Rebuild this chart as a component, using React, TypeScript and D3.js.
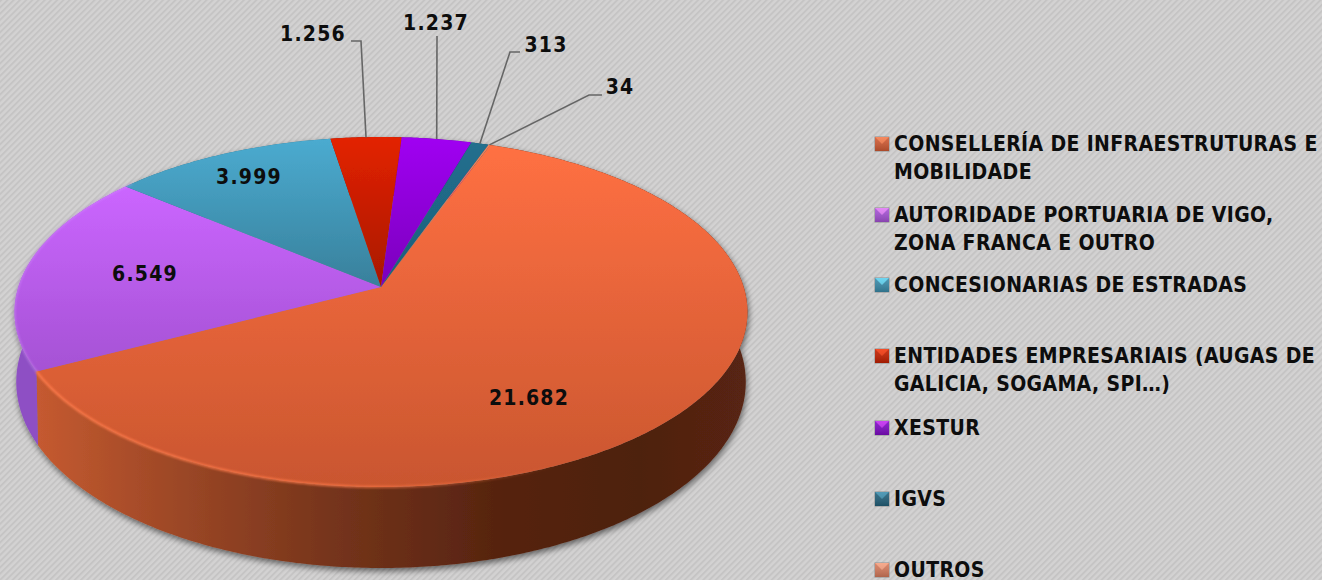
import React from "react";
import * as d3 from "d3";

const categories = [
  ["CONSELLERÍA DE INFRAESTRUTURAS E", "MOBILIDADE"],
  ["AUTORIDADE PORTUARIA DE VIGO,", "ZONA FRANCA E OUTRO"],
  ["CONCESIONARIAS DE ESTRADAS"],
  ["ENTIDADES EMPRESARIAIS (AUGAS DE", "GALICIA, SOGAMA, SPI…)"],
  ["XESTUR"],
  ["IGVS"],
  ["OUTROS"],
];
const values = [21682, 6549, 3999, 1256, 1237, 313, 34];
const valueLabels = ["21.682", "6.549", "3.999", "1.256", "1.237", "313", "34"];
const topColors = ["#ff7043", "#cb66ff", "#4babd0", "#e32200", "#a000f2", "#216f8e", "#f08560"];
const bottomColors = ["#c9562f", "#a552d4", "#38809b", "#a81800", "#7a00bb", "#1d5f7a", "#d06a48"];
const markerTop = ["#f47b4c", "#e07cf5", "#5fd0ee", "#f23a10", "#c22cf0", "#3f8fae", "#f5a080"];
const markerBody = ["#cf5a33", "#a552d4", "#3a8aa8", "#c22000", "#7f0cc4", "#23607a", "#d57a5c"];
const wallColors = ["", "#8e4fc4", "#2f6f88", "#8a1500", "#5a0090", "#154a60", "#a04a2a"];

// layout of labels: text centre, optional leader elbow
const labelLayout: { x: number; y: number; elbow?: [number, number]; end?: [number, number] }[] = [
  { x: 529, y: 405 },
  { x: 145, y: 281 },
  { x: 249, y: 184 },
  { x: 313, y: 41, elbow: [361, 41], end: [351, 41] },
  { x: 436, y: 30, elbow: [437, 36], end: [437, 36] },
  { x: 546, y: 52, elbow: [510, 52], end: [520, 52] },
  { x: 620, y: 94, elbow: [589, 95], end: [602, 95] },
];
const legendBaselines = [[151, 179], [222, 250], [292], [363, 391], [435], [506], [577]];

const START = (20 * Math.PI) / 180;
const K = 1 / 7;
const topFace = { x0: 381, y0: 287, a: 362.7, b: 171.4 };
const bottomFace = { x0: 381, y0: 355.4, a: 361, b: 182.2 };
type Face = typeof topFace;

const project = (f: Face, ang: number): [number, number] => {
  const u = Math.sin(ang);
  const v = -Math.cos(ang);
  const w = 1 - K * v;
  return [f.x0 + (f.a * u) / w, f.y0 + (f.b * v) / w];
};
const arcPts = (f: Face, a0: number, a1: number): [number, number][] => {
  const n = Math.max(2, Math.ceil(Math.abs(a1 - a0) / 0.01));
  return d3.range(n + 1).map((i) => project(f, a0 + ((a1 - a0) * i) / n));
};

const pie = d3.pie<number>().sort(null).startAngle(START).endAngle(START + 2 * Math.PI);
const arcs = pie(values);
const line = d3.line();
const FONT = "'DejaVu Sans', sans-serif";

export default function App() {
  return (
    <svg width={1322} height={580} style={{ position: "absolute", left: 0, top: 0, display: "block" }}>
      <defs>
        <pattern id="bg" width={4.4} height={4.4} patternUnits="userSpaceOnUse" patternTransform="rotate(-45)">
          <rect width={4.4} height={4.4} fill="#d3d2d2" />
          <rect width={4.4} height={1.9} fill="#c5c4c4" />
        </pattern>
        {arcs.map((_, i) => (
          <linearGradient key={i} id={`top${i}`} x1={0} y1={0} x2={0} y2={1}>
            <stop offset="0" stopColor={topColors[i]} />
            <stop offset="1" stopColor={bottomColors[i]} />
          </linearGradient>
        ))}
        <linearGradient id="wall0" gradientUnits="userSpaceOnUse" x1={37} x2={745} y1={0} y2={0}>
          <stop offset="0" stopColor="#c55a30" />
          <stop offset="0.2" stopColor="#9c4726" />
          <stop offset="0.42" stopColor="#75341b" />
          <stop offset="0.66" stopColor="#55230f" />
          <stop offset="0.85" stopColor="#4e2010" />
          <stop offset="1" stopColor="#582512" />
        </linearGradient>
        <linearGradient id="hl" gradientUnits="userSpaceOnUse" x1={37} x2={560} y1={0} y2={0}>
          <stop offset="0" stopColor="#ff7a4a" stopOpacity={1} />
          <stop offset="0.6" stopColor="#ff7a4a" stopOpacity={0.8} />
          <stop offset="1" stopColor="#ff7a4a" stopOpacity={0} />
        </linearGradient>
        <filter id="shadow" x="-5%" y="-5%" width="110%" height="115%">
          <feGaussianBlur in="SourceAlpha" stdDeviation={3} />
          <feOffset dx={1} dy={3} />
          <feComponentTransfer>
            <feFuncA type="linear" slope={0.55} />
          </feComponentTransfer>
          <feMerge>
            <feMergeNode />
            <feMergeNode in="SourceGraphic" />
          </feMerge>
        </filter>
        <filter id="soft" x="-5%" y="-5%" width="110%" height="110%">
          <feGaussianBlur stdDeviation={0.8} />
        </filter>
        <linearGradient id="mk" x1={0} y1={0} x2={0} y2={1}>
          <stop offset="0" stopColor="#ffffff" stopOpacity={0.1} />
          <stop offset="1" stopColor="#000000" stopOpacity={0.18} />
        </linearGradient>
      </defs>
      <rect width={1322} height={580} fill="url(#bg)" />

      <g filter="url(#shadow)">
        {arcs.map((d, i) => {
          const t = arcPts(topFace, d.startAngle, d.endAngle);
          const b = arcPts(bottomFace, d.startAngle, d.endAngle).reverse();
          return (
            <path key={i} d={line([...t, ...b]) + "Z"} fill={i === 0 ? "url(#wall0)" : wallColors[i]} />
          );
        })}
        {arcs.map((d, i) => {
          const pts = arcPts(topFace, d.startAngle, d.endAngle);
          return (
            <path key={i} d={line([[topFace.x0, topFace.y0], ...pts]) + "Z"} fill={`url(#top${i})`} />
          );
        })}
      </g>
      <path
        d={line(arcPts(topFace, arcs[0].startAngle + 1.7, arcs[0].endAngle)) as string}
        fill="none"
        stroke="url(#hl)"
        strokeWidth={2.2}
        filter="url(#soft)"
      />
      <path
        d={line(arcPts(topFace, arcs[1].startAngle, arcs[0].endAngle + 1.2)) as string}
        fill="none"
        stroke="#d9a0ff"
        strokeOpacity={0.5}
        strokeWidth={1.5}
        filter="url(#soft)"
      />

      {arcs.map((d, i) => {
        const l = labelLayout[i];
        if (!l.elbow || !l.end) return null;
        const anchor = project(topFace, (d.startAngle + d.endAngle) / 2);
        return (
          <path
            key={i}
            d={line([l.end, l.elbow, anchor]) as string}
            fill="none"
            stroke="#666666"
            strokeWidth={1.6}
          />
        );
      })}
      {valueLabels.map((t, i) => (
        <text
          key={t}
          x={labelLayout[i].x}
          y={labelLayout[i].y}
          textAnchor="middle"
          fontFamily={FONT}
          fontWeight={700}
          fontSize={21}
          fontStretch="condensed"
          letterSpacing={1.2}
          fill="#0d0d0d"
        >
          {t}
        </text>
      ))}

      {categories.map((lines, i) => {
        const y0 = legendBaselines[i][0];
        const mx = 875;
        const my = y0 - 14;
        const s = 14;
        return (
          <g key={i}>
            <rect x={mx - 0.5} y={my - 0.5} width={s + 1} height={s + 1} fill="#8c8c8c" />
            <rect x={mx} y={my} width={s} height={s} fill={markerBody[i]} />
            <path
              d={line([[mx, my], [mx + s, my], [mx + s / 2, my + s / 2]]) + "Z"}
              fill={markerTop[i]}
            />
            <rect x={mx} y={my} width={s} height={s} fill="url(#mk)" />
            {lines.map((t, j) => (
              <text
                key={j}
                x={894}
                y={legendBaselines[i][j]}
                fontFamily={FONT}
                fontWeight={700}
                fontSize={21}
                fontStretch="condensed"
                letterSpacing={0.37}
                fill="#0d0d0d"
              >
                {t}
              </text>
            ))}
          </g>
        );
      })}
    </svg>
  );
}
